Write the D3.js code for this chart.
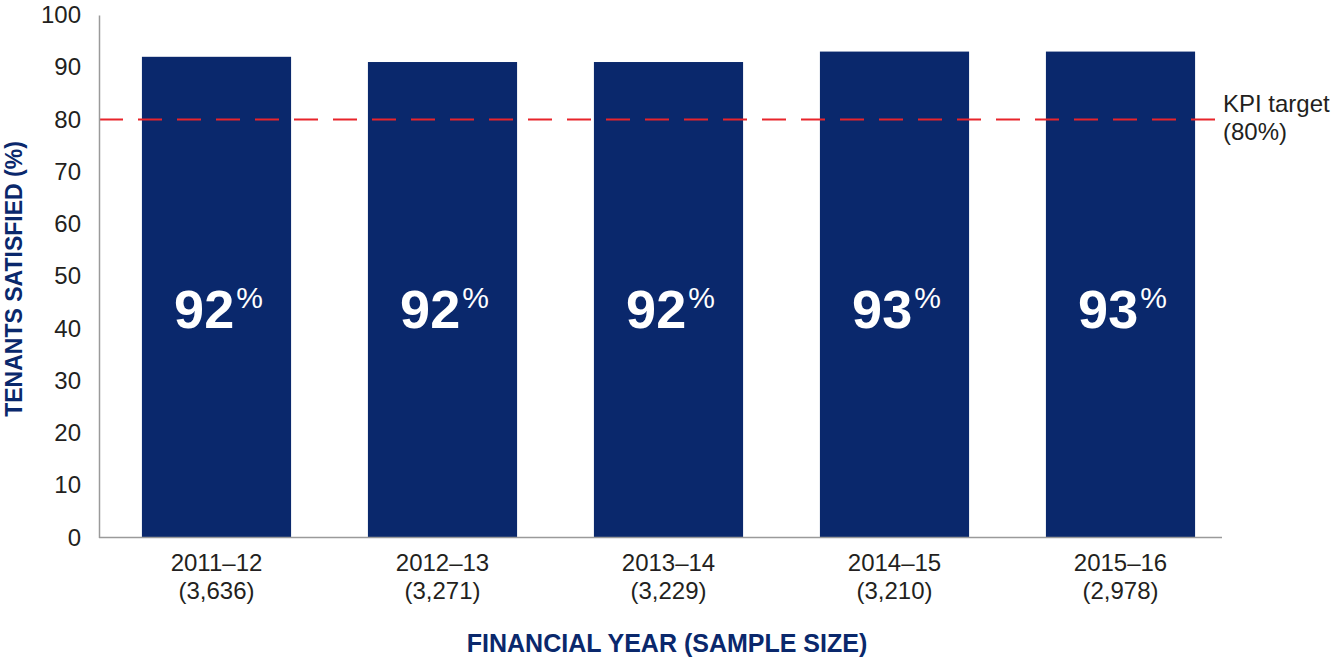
<!DOCTYPE html>
<html>
<head>
<meta charset="utf-8">
<script src="https://cdn.jsdelivr.net/npm/d3@7"></script>
<style>
  html, body { margin: 0; padding: 0; background: #fff; }
  svg { display: block; }
</style>
</head>
<body>
<svg id="chart" width="1336" height="666"></svg>
<script>
// ---- Data ----
const years = ["2011–12", "2012–13", "2013–14", "2014–15", "2015–16"];
const sampleSizes = ["(3,636)", "(3,271)", "(3,229)", "(3,210)", "(2,978)"];
const barValues = [92, 91, 91, 93, 93];
const barLabels = ["92", "92", "92", "93", "93"];
const yTicks = [0, 10, 20, 30, 40, 50, 60, 70, 80, 90, 100];
const kpiTarget = 80;
const kpiLabel = ["KPI target", "(80%)"];
const xTitle = "FINANCIAL YEAR (SAMPLE SIZE)";
const yTitle = "TENANTS SATISFIED (%)";

// ---- Layout ----
const navy = "#0a286c";
const textColor = "#231f20";
const axisColor = "#9a9a9a";
const font = "'Liberation Sans', Arial, Helvetica, sans-serif";

const svg = d3.select("#chart");

const x = d3.scaleBand()
  .domain(years)
  .range([103.5, 1233.5])
  .paddingInner(0.34)
  .paddingOuter(0.17);

const y = d3.scaleLinear()
  .domain([0, 100])
  .range([537.5, 15]);

const axisX0 = 99, axisX1 = 1222;

// Bars
svg.append("g").selectAll("rect")
  .data(barValues)
  .join("rect")
  .attr("x", (d, i) => x(years[i]))
  .attr("y", d => y(d))
  .attr("width", x.bandwidth())
  .attr("height", d => y(0) - y(d))
  .attr("fill", navy);

// KPI dashed line
svg.append("line")
  .attr("x1", axisX0)
  .attr("x2", 1215)
  .attr("y1", y(kpiTarget))
  .attr("y2", y(kpiTarget))
  .attr("stroke", "#e8242b")
  .attr("stroke-width", 2)
  .attr("stroke-dasharray", "24,15");

// KPI label
const kpi = svg.append("text")
  .attr("x", 1223)
  .attr("y", y(kpiTarget) - 8)
  .attr("font-family", font)
  .attr("font-size", 24)
  .attr("fill", textColor);
kpiLabel.forEach((t, i) => {
  kpi.append("tspan").attr("x", 1223).attr("dy", i === 0 ? 0 : 28).text(t);
});

// Y axis
const yAxis = d3.axisLeft(y)
  .tickValues(yTicks)
  .tickSize(0)
  .tickPadding(18);
const gy = svg.append("g")
  .attr("transform", `translate(${axisX0},0)`)
  .call(yAxis);
gy.select(".domain")
  .attr("stroke", axisColor)
  .attr("stroke-width", 1.5);
gy.selectAll("text")
  .attr("font-family", font)
  .attr("font-size", 24)
  .attr("fill", textColor);

// X axis
const xAxis = d3.axisBottom(x).tickSize(0).tickFormat(() => "");
const gx = svg.append("g")
  .attr("transform", `translate(0,${y(0)})`)
  .call(xAxis);
gx.select(".domain").remove();
svg.append("line")
  .attr("x1", axisX0).attr("x2", axisX1)
  .attr("y1", y(0)).attr("y2", y(0))
  .attr("stroke", axisColor)
  .attr("stroke-width", 1.5);

gx.selectAll(".tick").each(function(d, i) {
  const t = d3.select(this).append("text")
    .attr("text-anchor", "middle")
    .attr("font-family", font)
    .attr("font-size", 24)
    .attr("fill", textColor)
    .attr("y", 33);
  t.append("tspan").attr("x", 0).text(years[i]);
  t.append("tspan").attr("x", 0).attr("dy", 28).text(sampleSizes[i]);
});

// Value labels in bars
barLabels.forEach((lab, i) => {
  const t = svg.append("text")
    .attr("x", x(years[i]) + x.bandwidth() / 2 + 2)
    .attr("y", y(40) - 1)
    .attr("text-anchor", "middle")
    .attr("font-family", font)
    .attr("fill", "#ffffff");
  t.append("tspan").attr("font-size", 54).attr("font-weight", "bold").text(lab);
  t.append("tspan").attr("font-size", 30).attr("dy", -20).attr("dx", 2).text("%");
});

// Axis titles
svg.append("text")
  .attr("x", 667)
  .attr("y", 652)
  .attr("text-anchor", "middle")
  .attr("font-family", font)
  .attr("font-weight", "bold")
  .attr("font-size", 25)
  .attr("fill", navy)
  .text(xTitle);

svg.append("text")
  .attr("transform", "translate(22,279) rotate(-90)")
  .attr("text-anchor", "middle")
  .attr("font-family", font)
  .attr("font-weight", "bold")
  .attr("font-size", 23)
  .attr("fill", navy)
  .text(yTitle);
</script>
</body>
</html>
